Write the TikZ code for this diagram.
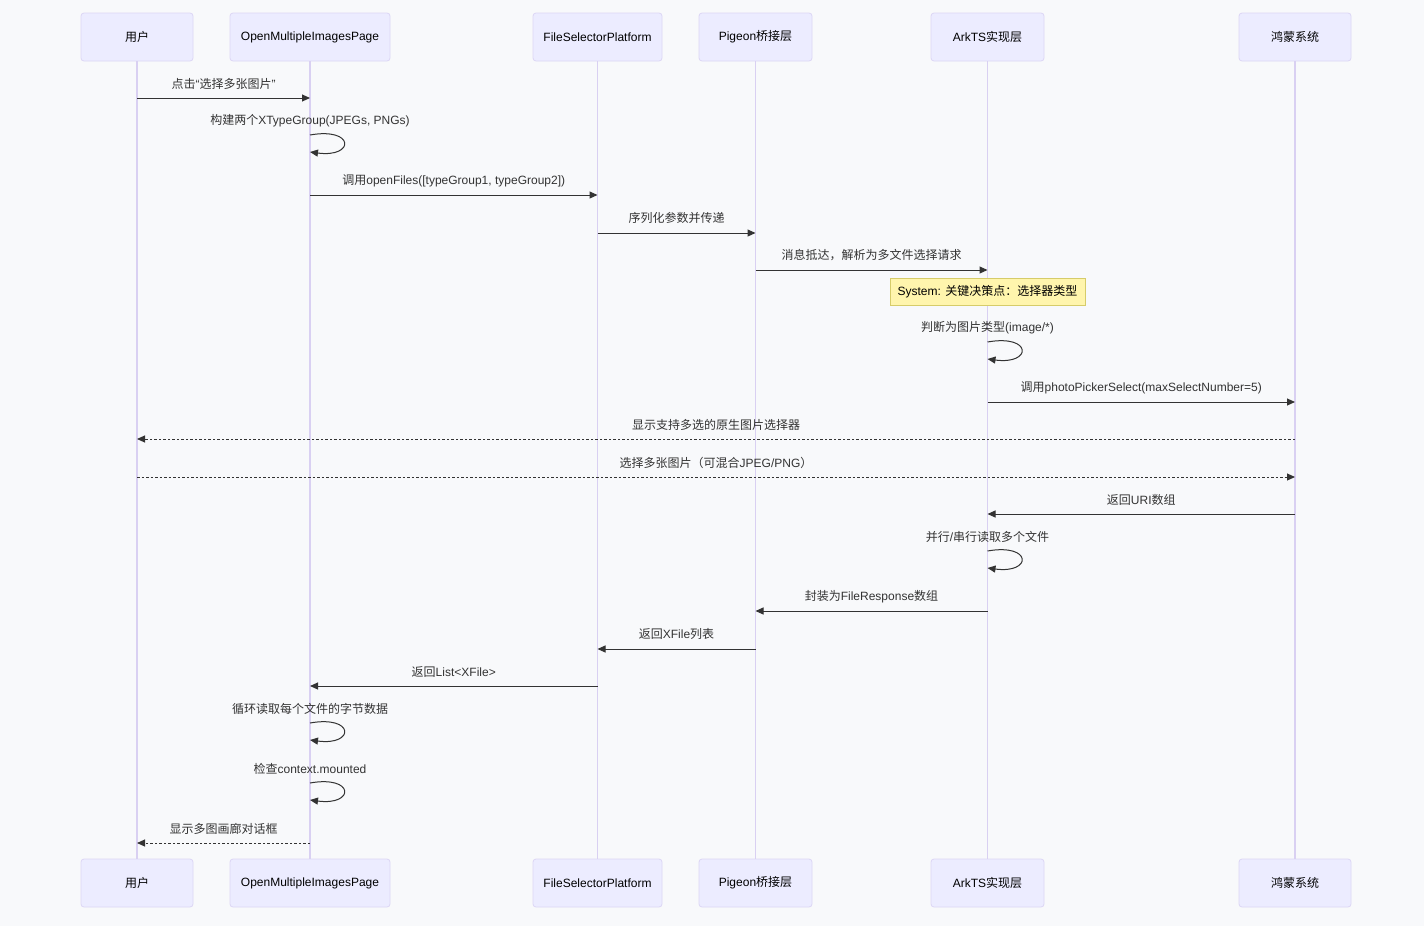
\documentclass[tikz,border=0pt]{standalone}
\usepackage{fontspec}
\setmainfont{Liberation Sans}
\newfontfamily\cjkfont{Noto Sans CJK SC}
\newcommand{\zh}[1]{{\cjkfont #1}}
\usetikzlibrary{arrows.meta}
\definecolor{bgc}{HTML}{F8F9FB}
\definecolor{boxfill}{HTML}{ECECFF}
\definecolor{boxline}{HTML}{DCD6F5}
\definecolor{lifec}{HTML}{D9D0F2}
\definecolor{ink}{HTML}{333333}
\definecolor{notefill}{HTML}{FFF5AD}
\definecolor{noteline}{HTML}{D6CC6A}
\tikzset{
  actorbox/.style={draw=boxline, fill=boxfill, rounded corners=3pt, minimum height=48pt, inner sep=0pt, font=\fontsize{12}{14}\selectfont, text=black, line width=0.8pt},
  life/.style={draw=lifec, line width=1.6pt},
  msg/.style={draw=ink, line width=1pt, -{Triangle[length=8pt,width=7pt]}},
  dmsg/.style={msg, dash pattern=on 2.5pt off 2pt},
  lbl/.style={font=\fontsize{12}{14}\selectfont, text=ink, inner sep=0pt},
  notebox/.style={draw=noteline, fill=notefill, minimum width=195pt, minimum height=27pt, inner sep=0pt, font=\fontsize{12}{14}\selectfont, text=black, line width=0.8pt}
}
\begin{document}
\begin{tikzpicture}[x=1pt,y=-1pt]
\fill[bgc] (0,0) rectangle (1424,926);
\useasboundingbox (0,0) rectangle (1424,926);
% top actors
\node[actorbox, minimum width=112pt] (tA) at (137,37) {\zh{用户}};
\node[actorbox, minimum width=160pt] (tB) at (310,37) {OpenMultipleImagesPage};
\node[actorbox, minimum width=129pt] (tC) at (597.5,37) {FileSelectorPlatform};
\node[actorbox, minimum width=113pt] (tD) at (755.5,37) {Pigeon\zh{桥接层}};
\node[actorbox, minimum width=113pt] (tE) at (987.5,37) {ArkTS\zh{实现层}};
\node[actorbox, minimum width=112pt] (tF) at (1295,37) {\zh{鸿蒙系统}};
% bottom actors
\node[actorbox, minimum width=112pt] (bA) at (137,883) {\zh{用户}};
\node[actorbox, minimum width=160pt] (bB) at (310,883) {OpenMultipleImagesPage};
\node[actorbox, minimum width=129pt] (bC) at (597.5,883) {FileSelectorPlatform};
\node[actorbox, minimum width=113pt] (bD) at (755.5,883) {Pigeon\zh{桥接层}};
\node[actorbox, minimum width=113pt] (bE) at (987.5,883) {ArkTS\zh{实现层}};
\node[actorbox, minimum width=112pt] (bF) at (1295,883) {\zh{鸿蒙系统}};
% lifelines
\draw[life] (tA.south) -- (bA.north);
\draw[life] (tB.south) -- (bB.north);
\draw[life] (tC.south) -- (bC.north);
\draw[life] (tD.south) -- (bD.north);
\draw[life] (tE.south) -- (bE.north);
\draw[life] (tF.south) -- (bF.north);
% messages
\draw[msg] (tA |- 0,98) -- (tB |- 0,98) node[lbl, midway, yshift=14pt] (l1) {\zh{点击}“\zh{选择多张图片}”};
\node[lbl] (l2) at (tB |- 0,121) {\zh{构建两个}XTypeGroup(JPEGs, PNGs)};
\draw[msg] (tB |- 0,135) .. controls +(45,-8) and +(45,6) .. (tB |- 0,152);
\draw[msg] (tB |- 0,195) -- (tC |- 0,195) node[lbl, midway, yshift=14pt] (l3) {\zh{调用}openFiles([typeGroup1, typeGroup2])};
\draw[msg] (tC |- 0,233) -- (tD |- 0,233) node[lbl, midway, yshift=15pt] (l4) {\zh{序列化参数并传递}};
\draw[msg] (tD |- 0,270) -- (tE |- 0,270) node[lbl, midway, yshift=15pt] (l5) {\zh{消息抵达，解析为多文件选择请求}};
\node[notebox] (note) at (987.5,291.5) {System: \zh{关键决策点：选择器类型}};
\node[lbl] (l6) at (tE |- 0,328) {\zh{判断为图片类型}(image/*)};
\draw[msg] (tE |- 0,342) .. controls +(45,-8) and +(45,6) .. (tE |- 0,359);
\draw[msg] (tE |- 0,402) -- (tF |- 0,402) node[lbl, midway, yshift=14pt] (l7) {\zh{调用}photoPickerSelect(maxSelectNumber=5)};
\draw[dmsg] (tF |- 0,439) -- (tA |- 0,439) node[lbl, midway, yshift=14pt] (l8) {\zh{显示支持多选的原生图片选择器}};
\draw[dmsg] (tA |- 0,477) -- (tF |- 0,477) node[lbl, midway, yshift=14pt] (l9) {\zh{选择多张图片（可混合}JPEG/PNG\zh{）}};
\draw[msg] (tF |- 0,514) -- (tE |- 0,514) node[lbl, midway, yshift=14pt] (l10) {\zh{返回}URI\zh{数组}};
\node[lbl] (l11) at (tE |- 0,537) {\zh{并行}/\zh{串行读取多个文件}};
\draw[msg] (tE |- 0,551) .. controls +(45,-8) and +(45,6) .. (tE |- 0,568);
\draw[msg] (tE |- 0,611) -- (tD |- 0,611) node[lbl, midway, yshift=14pt] (l12) {\zh{封装为}FileResponse\zh{数组}};
\draw[msg] (tD |- 0,649) -- (tC |- 0,649) node[lbl, midway, yshift=15pt] (l13) {\zh{返回}XFile\zh{列表}};
\draw[msg] (tC |- 0,686) -- (tB |- 0,686) node[lbl, midway, yshift=14pt] (l14) {\zh{返回}List<XFile>};
\node[lbl] (l15) at (tB |- 0,709) {\zh{循环读取每个文件的字节数据}};
\draw[msg] (tB |- 0,723) .. controls +(45,-8) and +(45,6) .. (tB |- 0,740);
\node[lbl] (l16) at (tB |- 0,769) {\zh{检查}context.mounted};
\draw[msg] (tB |- 0,783) .. controls +(45,-8) and +(45,6) .. (tB |- 0,800);
\draw[dmsg] (tB |- 0,843) -- (tA |- 0,843) node[lbl, midway, yshift=14pt] (l17) {\zh{显示多图画廊对话框}};
\end{tikzpicture}
\end{document}
